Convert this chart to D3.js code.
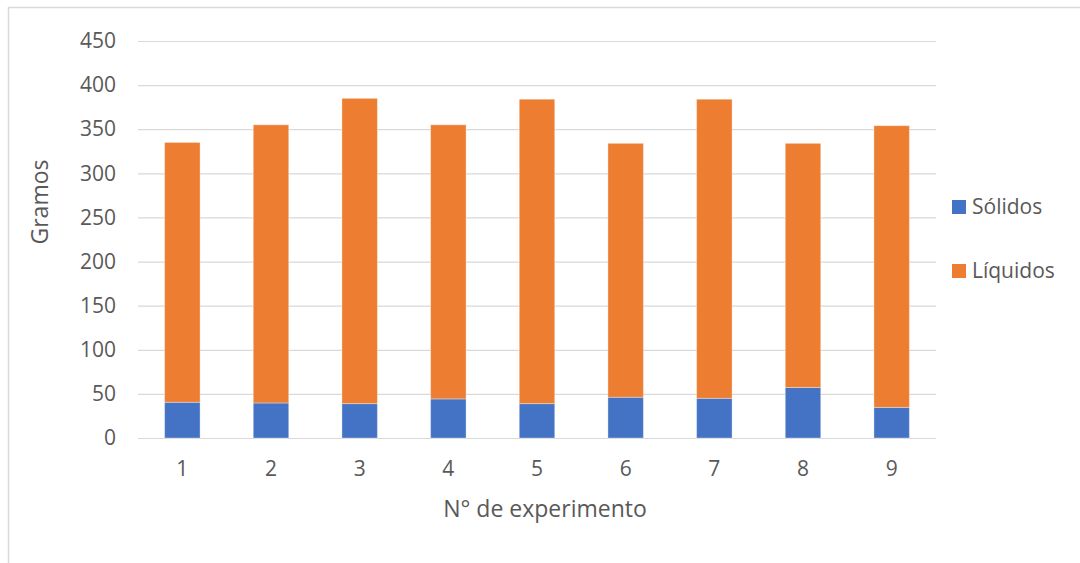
<!DOCTYPE html>
<html>
<head>
<meta charset="utf-8">
<script src="https://cdn.jsdelivr.net/npm/d3@7"></script>
<style>
  html, body { margin: 0; padding: 0; background: #fff; }
  svg { display: block; }
  text { font-family: "Open Sans", "Noto Sans", sans-serif; fill: #595959; }
</style>
</head>
<body>
<script>
// Experiment numbers and measured masses (grams)
const experimentos = ["1", "2", "3", "4", "5", "6", "7", "8", "9"];
const solidos = [40.5, 39.7, 39, 44.3, 39, 46.2, 45, 57.3, 34.7];
const totales = [335, 355, 385, 355, 384, 334, 384, 334, 354];
const liquidos = totales.map((t, i) => t - solidos[i]);
const yTicks = [0, 50, 100, 150, 200, 250, 300, 350, 400, 450];
const seriesNames = ["Sólidos", "Líquidos"];
const seriesColors = ["#4472C4", "#ED7D31"];

const W = 1080, H = 563;
const plot = { left: 138, right: 936, top: 41, bottom: 438 };

const svg = d3.select("body").append("svg")
  .attr("width", W).attr("height", H);

// Chart frame
svg.append("rect")
  .attr("x", 8.5).attr("y", 7.5)
  .attr("width", W + 20).attr("height", H + 20)
  .attr("fill", "#fff").attr("stroke", "#d9d9d9").attr("stroke-width", 1.5);

const x = d3.scaleBand()
  .domain(experimentos)
  .range([plot.left, plot.right])
  .paddingInner(0.6).paddingOuter(0.3);

const y = d3.scaleLinear()
  .domain([0, 450])
  .range([plot.bottom, plot.top]);

// Horizontal gridlines + y labels
const yAxis = d3.axisLeft(y)
  .tickValues(yTicks)
  .tickSize(-(plot.right - plot.left))
  .tickPadding(22);
const gy = svg.append("g")
  .attr("transform", `translate(${plot.left},0)`)
  .call(yAxis);
gy.select(".domain").remove();
gy.selectAll(".tick line").attr("stroke", "#d9d9d9").attr("stroke-width", 1.2);
gy.selectAll(".tick text")
  .attr("font-size", 21).attr("fill", "#595959")
  .style("font-family", '"Open Sans", sans-serif');

// Stacked bars
const rows = experimentos.map((e, i) => ({ exp: e, "Sólidos": solidos[i], "Líquidos": liquidos[i] }));
const stack = d3.stack().keys(seriesNames)(rows);

svg.append("g").selectAll("g")
  .data(stack)
  .join("g")
  .attr("fill", (d, i) => seriesColors[i])
  .selectAll("rect")
  .data(d => d)
  .join("rect")
  .attr("x", d => x(d.data.exp))
  .attr("width", x.bandwidth())
  .attr("y", d => y(d[1]))
  .attr("height", d => y(d[0]) - y(d[1]))
  .attr("stroke", "#ffffff").attr("stroke-opacity", 0.35).attr("stroke-width", 1);

// X labels
const xAxis = d3.axisBottom(x).tickSize(0).tickPadding(23);
const gx = svg.append("g")
  .attr("transform", `translate(0,${plot.bottom})`)
  .call(xAxis);
gx.select(".domain").remove();
gx.selectAll(".tick text")
  .attr("font-size", 21).attr("fill", "#595959")
  .style("font-family", '"Open Sans", sans-serif');

// Axis titles
svg.append("text")
  .attr("x", 545).attr("y", 517)
  .attr("text-anchor", "middle").attr("font-size", 23)
  .text("N° de experimento");

svg.append("text")
  .attr("transform", "translate(48,202) rotate(-90)")
  .attr("text-anchor", "middle").attr("font-size", 23)
  .text("Gramos");

// Legend
const legend = svg.append("g");
seriesNames.forEach((name, i) => {
  const cy = 207 + i * 64;
  legend.append("rect")
    .attr("x", 952).attr("y", cy - 7)
    .attr("width", 14).attr("height", 14)
    .attr("fill", seriesColors[i]);
  legend.append("text")
    .attr("x", 972).attr("y", cy)
    .attr("dy", "0.35em").attr("font-size", 21)
    .text(name);
});
</script>
</body>
</html>
